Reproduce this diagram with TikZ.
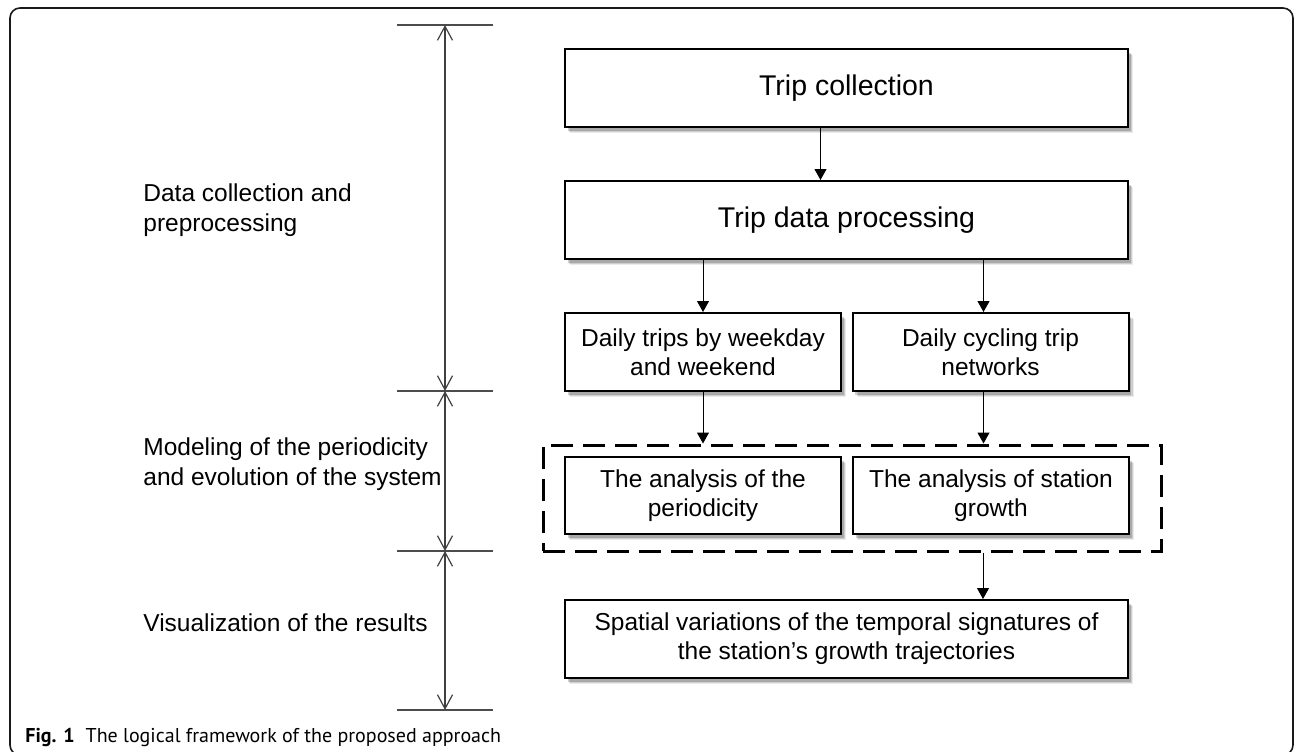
\documentclass[tikz,border=0pt]{standalone}
\usepackage{fontspec}
\setmainfont{Liberation Sans}
\newfontfamily\capfont{PT Sans}
\usetikzlibrary{arrows.meta,shadows,calc}
\begin{document}
\begin{tikzpicture}[x=0.5pt,y=-0.5pt,
  box/.style={draw=black, line width=1pt, fill=white, inner sep=0pt, align=center,
    minimum height=39pt,
    font=\fontsize{12.25}{14.5}\selectfont,
    drop shadow={shadow xshift=2.5pt, shadow yshift=-3pt, fill=black, opacity=0.08},
    drop shadow={shadow xshift=2pt, shadow yshift=-2.4pt, fill=black, opacity=0.12},
    drop shadow={shadow xshift=1.4pt, shadow yshift=-1.8pt, fill=black, opacity=0.18}},
  bigbox/.style={box, minimum width=281.5pt, font=\fontsize{14.25}{17}\selectfont},
  halfbox/.style={box, minimum width=138pt},
  lbl/.style={anchor=west, align=left, inner sep=0pt, font=\fontsize{12.25}{15}\selectfont},
  arr/.style={-{Triangle[length=5.5pt,width=6pt]}, line width=0.5pt, draw=black},
  dim/.style={{Straight Barb[length=7pt,width=7.5pt]}-{Straight Barb[length=7pt,width=7.5pt]}, line width=0.6pt, draw=black!75},
  tickline/.style={line width=0.6pt, draw=black!70},
  grp/.style={draw=black, line width=1.5pt, dash pattern=on 11pt off 5pt, inner sep=0pt,
    minimum width=309pt, minimum height=53pt}
]
\useasboundingbox (0,0) rectangle (1295,751);
% outer frame
\draw[line width=0.8pt, rounded corners=5pt, draw=black!90] (10,8) rectangle (1293,755);

% left dimension line
\coordinate (t1) at (445,25);
\coordinate (t2) at (445,391);
\coordinate (t3) at (445,551);
\coordinate (t4) at (445,710);
\foreach \t in {t1,t2,t3,t4}{
  \draw[tickline] ($(\t)+(-48,0)$) -- ($(\t)+(48,0)$);
}
\draw[dim] (t1) -- (t2);
\draw[dim] (t2) -- (t3);
\draw[dim] (t3) -- (t4);

\node[lbl] (l1) at (143,210) {Data collection and\\preprocessing};
\node[lbl] (l2) at (143,464) {Modeling of the periodicity\\and evolution of the system};
\node[lbl] (l3) at (143,623) {Visualization of the results};

% boxes
\node[bigbox] (tc) at (846.5,88) {Trip collection};
\node[bigbox] (tdp) at (846.5,220) {Trip data processing};
\node[halfbox] (dt) at (703,352) {Daily trips by weekday\\and weekend};
\node[halfbox] (cy) at (990.5,352) {Daily cycling trip\\networks};
\node[grp] (dash) at (852,498) {};
\node[halfbox, minimum height=38.5pt] (ap) at (703,495.5) {The analysis of the\\periodicity};
\node[halfbox, minimum height=38.5pt] (as) at (991,495.5) {The analysis of station\\growth};
\node[box, minimum width=281.5pt] (sv) at (846.5,639) {Spatial variations of the temporal signatures of\\the station’s growth trajectories};

% connectors
\coordinate (a1) at ($(tc.south)+(-26,0)$);
\coordinate (a2) at ($(cy.north)+(-7,0)$);
\coordinate (a3) at ($(cy.south)+(-7,0)$);
\coordinate (a4) at ($(dash.south)+(131,0)$);
\draw[arr] (a1) -- (a1 |- tdp.north);
\draw[arr] (tdp.south -| dt.north) -- (dt.north);
\draw[arr] (tdp.south -| a2) -- (a2);
\draw[arr] (dt.south) -- (dt.south |- dash.north);
\draw[arr] (a3) -- (a3 |- dash.north);
\draw[arr] (a4) -- (a4 |- sv.north);

% caption
\node[anchor=base west, inner sep=0pt, font=\capfont\fontsize{10}{12}\selectfont] (cap) at (25,742)
  {\textbf{Fig. 1}\hspace{0.55em}The logical framework of the proposed approach};
\end{tikzpicture}
\end{document}
